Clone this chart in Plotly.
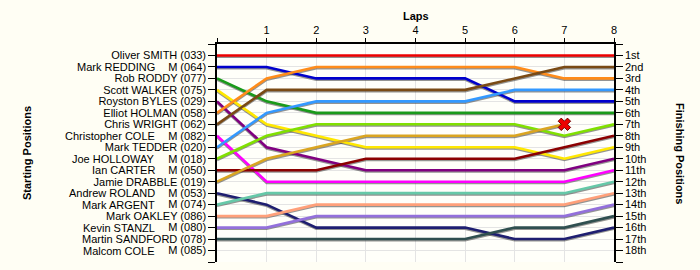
import plotly.graph_objects as go

laps = [0, 1, 2, 3, 4, 5, 6, 7, 8]

drivers = ["Oliver SMITH", "Mark REDDING", "Rob RODDY", "Scott WALKER", "Royston BYLES",
           "Elliot HOLMAN", "Chris WRIGHT", "Christopher COLE", "Mark TEDDER", "Joe HOLLOWAY",
           "Ian CARTER", "Jamie DRABBLE", "Andrew ROLAND", "Mark ARGENT", "Mark OAKLEY",
           "Kevin STANZL", "Martin SANDFORD", "Malcom COLE"]
numbers = ["033", "064", "077", "075", "029", "058", "062", "082", "020", "018",
           "050", "019", "053", "074", "086", "080", "078", "085"]
masters = [False, True, False, False, False, False, False, True, False, True,
           True, False, True, True, False, True, False, True]
colors = ["#EE0000", "#0000CC", "#1A9A1A", "#FFE800", "#800080", "#FF8C1A", "#7A4A14",
          "#FF00FF", "#3399FF", "#80E000", "#8B0000", "#DAA520", "#1E1E70", "#66C8A8",
          "#FFA07A", "#9370DB", "#2F4F4F", "#888888"]

positions = [
    [1, 1, 1, 1, 1, 1, 1, 1, 1],
    [2, 2, 3, 3, 3, 3, 5, 5, 5],
    [3, 5, 6, 6, 6, 6, 6, 6, 6],
    [4, 7, 8, 9, 9, 9, 9, 10, 9],
    [5, 9, 10, 11, 11, 11, 11, 11, 10],
    [6, 3, 2, 2, 2, 2, 2, 3, 3],
    [7, 4, 4, 4, 4, 4, 3, 2, 2],
    [8, 12, 12, 12, 12, 12, 12, 12, 11],
    [9, 6, 5, 5, 5, 5, 4, 4, 4],
    [10, 8, 7, 7, 7, 7, 7, 8, 7],
    [11, 11, 11, 10, 10, 10, 10, 9, 8],
    [12, 10, 9, 8, 8, 8, 8, 7],
    [13, 14, 16, 16, 16, 16, 17, 17, 16],
    [14, 13, 13, 13, 13, 13, 13, 13, 12],
    [15, 15, 14, 14, 14, 14, 14, 14, 13],
    [16, 16, 15, 15, 15, 15, 15, 15, 14],
    [17, 17, 17, 17, 17, 17, 16, 16, 15],
    [],
]
retired = {11: 7}  # driver index -> lap of retirement

finish_labels = ["1st", "2nd", "3rd", "4th", "5th", "6th", "7th", "8th", "9th", "10th",
                 "11th", "12th", "13th", "14th", "15th", "16th", "17th", "18th"]

FONT = "Liberation Sans, Arial, sans-serif"
fig = go.Figure()

n = len(drivers)
# shadows (base subplot, below)
for i in range(n):
    p = positions[i]
    if not p:
        continue
    fig.add_trace(go.Scatter(x=laps[:len(p)], y=[v + 0.11 for v in p], mode="lines",
                             line=dict(color="rgba(60,60,60,0.55)", width=2.5),
                             hoverinfo="skip", showlegend=False, xaxis="x", yaxis="y"))
# main lines (overlay subplot, above)
for i in range(n):
    p = positions[i]
    if not p:
        continue
    fig.add_trace(go.Scatter(x=laps[:len(p)], y=p, mode="lines",
                             line=dict(color=colors[i], width=2.6),
                             name=drivers[i], showlegend=False, xaxis="x", yaxis="y2"))
for i, lap in retired.items():
    fig.add_trace(go.Scatter(x=[lap], y=[positions[i][lap]], mode="markers",
                             marker=dict(symbol="x", size=11, color="#EE0000",
                                         line=dict(color="#700000", width=1)),
                             showlegend=False, xaxis="x", yaxis="y2"))

left_text = [""]
for i in range(n):
    if masters[i]:
        left_text.append("M (%s)" % numbers[i])
    else:
        left_text.append("%s (%s)" % (drivers[i], numbers[i]))
left_text.append("")
tickvals = list(range(0, n + 2))

annotations = []
for i in range(n):
    if masters[i]:
        annotations.append(dict(text=drivers[i], xref="paper", yref="y", x=0, y=i + 1,
                                xanchor="right", yanchor="middle", xshift=-60, showarrow=False,
                                font=dict(family=FONT, size=11, color="#000")))
annotations.append(dict(text="<b>Laps</b>", xref="paper", yref="paper", x=0.5, y=1,
                        yshift=28, xanchor="center", yanchor="middle", showarrow=False,
                        font=dict(family=FONT, size=11, color="#000")))
annotations.append(dict(text="<b>Starting Positions</b>", xref="paper", yref="paper", x=0,
                        xshift=-190, y=0.5, xanchor="center", yanchor="middle", textangle=-90,
                        showarrow=False, font=dict(family=FONT, size=11, color="#000")))
annotations.append(dict(text="<b>Finishing Positions</b>", xref="paper", yref="paper", x=1,
                        xshift=66, y=0.5, xanchor="center", yanchor="middle", textangle=90,
                        showarrow=False, font=dict(family=FONT, size=11, color="#000")))

fig.update_layout(
    width=700, height=270,
    margin=dict(l=217, r=86, t=44, b=8, pad=0),
    paper_bgcolor="#FFFEF4", plot_bgcolor="#FFFFFA",
    font=dict(family=FONT, size=11, color="#000"),
    xaxis=dict(range=[0, 8], side="top", tickvals=laps,
               ticktext=[""] + [str(v) for v in laps[1:]],
               showline=True, linecolor="#000", linewidth=1.5, ticks="outside",
               ticklen=4, tickcolor="#000", showgrid=True, gridcolor="#E4E4E4",
               zeroline=False, fixedrange=True),
    yaxis=dict(range=[n + 1, 0], tickvals=tickvals, ticktext=left_text,
               showline=True, linecolor="#000", linewidth=1.5, ticks="outside",
               ticklen=7, tickcolor="#000", showgrid=True, gridcolor="#E4E4E4",
               zeroline=False, fixedrange=True),
    yaxis2=dict(range=[n + 1, 0], overlaying="y", side="right", tickvals=tickvals,
                ticktext=[""] + finish_labels + [""],
                showline=True, linecolor="#000", linewidth=1.5, ticks="outside",
                ticklen=7, tickcolor="#000", showgrid=False, zeroline=False, fixedrange=True),
    annotations=annotations,
)

fig.write_html("out.html")
